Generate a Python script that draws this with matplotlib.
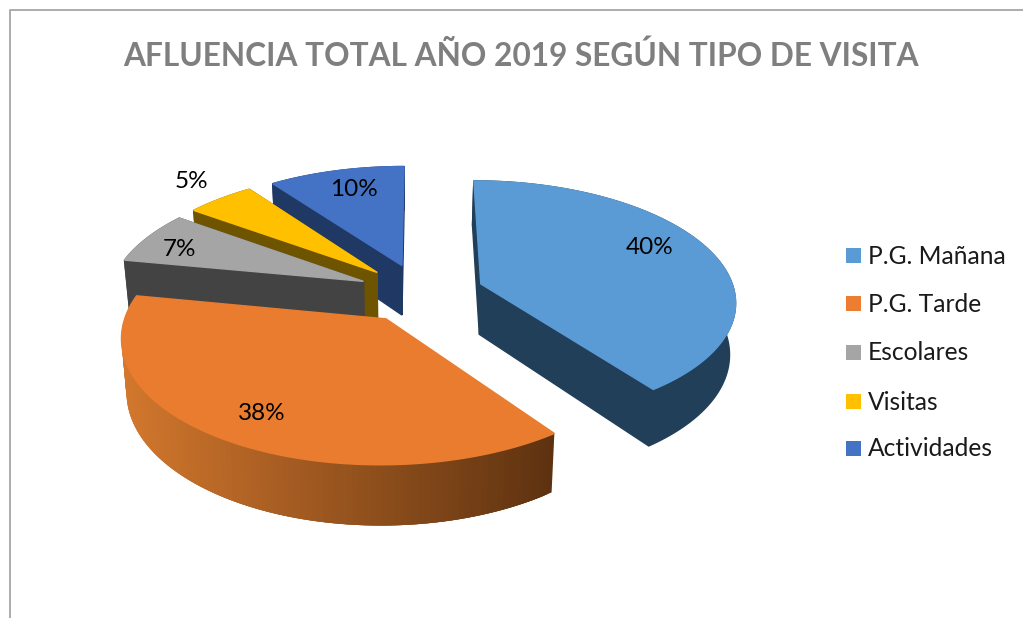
import numpy as np
import matplotlib
matplotlib.use("Agg")
import matplotlib.pyplot as plt
from matplotlib.colors import to_rgb

title = "AFLUENCIA TOTAL AÑO 2019 SEGÚN TIPO DE VISITA"
categories = ["P.G. Mañana", "P.G. Tarde", "Escolares", "Visitas", "Actividades"]
values = [40, 38, 7, 5, 10]
colors = ["#5B9BD5", "#E97C2E", "#A5A5A5", "#FFC000", "#4472C4"]
wall_colors = ["#223F59", "#6B3A12", "#434343", "#6F5400", "#1F3864"]
legend_colors = ["#5B9BD5", "#ED7D31", "#A5A5A5", "#FFC000", "#4472C4"]
label_pos = [(650, 247), (262, 413), (180, 249), (191, 182), (354, 190)]

# pie geometry, in pixels
cx, cy = 421, 293
rx, ry = 254, 119
persp = 0.133
explode = 0.25
depth = 51
start_angle = 0


def project(X, Y, bottom=False):
    f = 1 / (1 + persp * Y)
    x = cx + rx * X * f
    y = cy - ry * Y * f
    if bottom:
        x = 400 + (x - 400) * 0.982
        y = y + depth * f
    return x, y


def slice_points(t0, t1, n=120):
    mid = np.radians((t0 + t1) / 2)
    ox, oy = explode * np.sin(mid), explode * np.cos(mid)
    t = np.radians(np.linspace(t0, t1, n))
    return ox + np.sin(t), oy + np.cos(t), ox, oy


fig = plt.figure(figsize=(10.23, 6.18), dpi=100)
plt.rcParams["font.family"] = ["Lato", "DejaVu Sans"]
ax = fig.add_axes([0, 0, 1, 1])
ax.set_xlim(0, 1023)
ax.set_ylim(618, 0)
ax.axis("off")

# chart frame, cut by the image on the right and bottom
ax.plot([9.5, 9.5, 1023], [618, 10, 10], color="#A6A6A6", lw=1.3)

ax.text(521, 56, title, ha="center", va="center", fontsize=22.8,
        fontweight="bold", color="#7F7F7F")

edges = np.cumsum([0] + values) / sum(values) * 360 + start_angle

# back slices first, orange and light blue last
for z, i in enumerate([4, 3, 2, 0, 1]):
    t0, t1 = edges[i], edges[i + 1]
    X, Y, ox, oy = slice_points(t0, t1)
    tx, ty = project(np.r_[ox, X], np.r_[oy, Y])
    bx, by = project(np.r_[ox, X], np.r_[oy, Y], bottom=True)
    z = z * 2 + 2

    # walls from the centre out to both ends, the orange one only shows its front
    for j in [1, len(tx) - 1]:
        if i == 1:
            continue
        ax.fill([tx[0], tx[j], bx[j], bx[0]], [ty[0], ty[j], by[j], by[0]],
                color=wall_colors[i], lw=1, zorder=z)

    # outer wall, the orange one has a gradient left to right
    if i == 1:
        for j in range(1, len(tx) - 1):
            s = np.clip((tx[j] - 125) / (555 - 125), 0, 1)
            c = tuple((1 - s) * np.array(to_rgb("#D2772D")) + s * np.array(to_rgb("#5E3210")))
            k = min(j + 3, len(tx) - 1)  # strips overlap so no seams show
            ax.fill([tx[j], tx[k], bx[k], bx[j]], [ty[j], ty[k], by[k], by[j]],
                    color=c, lw=0, zorder=z)
    else:
        ax.fill(np.r_[tx[1:], bx[:0:-1]], np.r_[ty[1:], by[:0:-1]],
                color=wall_colors[i], lw=1, zorder=z)

    ax.fill(tx, ty, color=colors[i], lw=1, zorder=z + 1)

for pos, v in zip(label_pos, values):
    ax.text(pos[0], pos[1], f"{v}%", ha="center", va="center", fontsize=17.5,
            color="black", zorder=20)

# legend
legend_y = [255, 303, 352, 401, 448]
for name, c, y in zip(categories, legend_colors, legend_y):
    ax.fill([846, 861, 861, 846], [y - 7.5, y - 7.5, y + 7.5, y + 7.5], color=c, lw=0)
    ax.text(868, y + 1, name, ha="left", va="center", fontsize=17.7, color="#1A1A1A")

fig.savefig("out.png", dpi=100)
